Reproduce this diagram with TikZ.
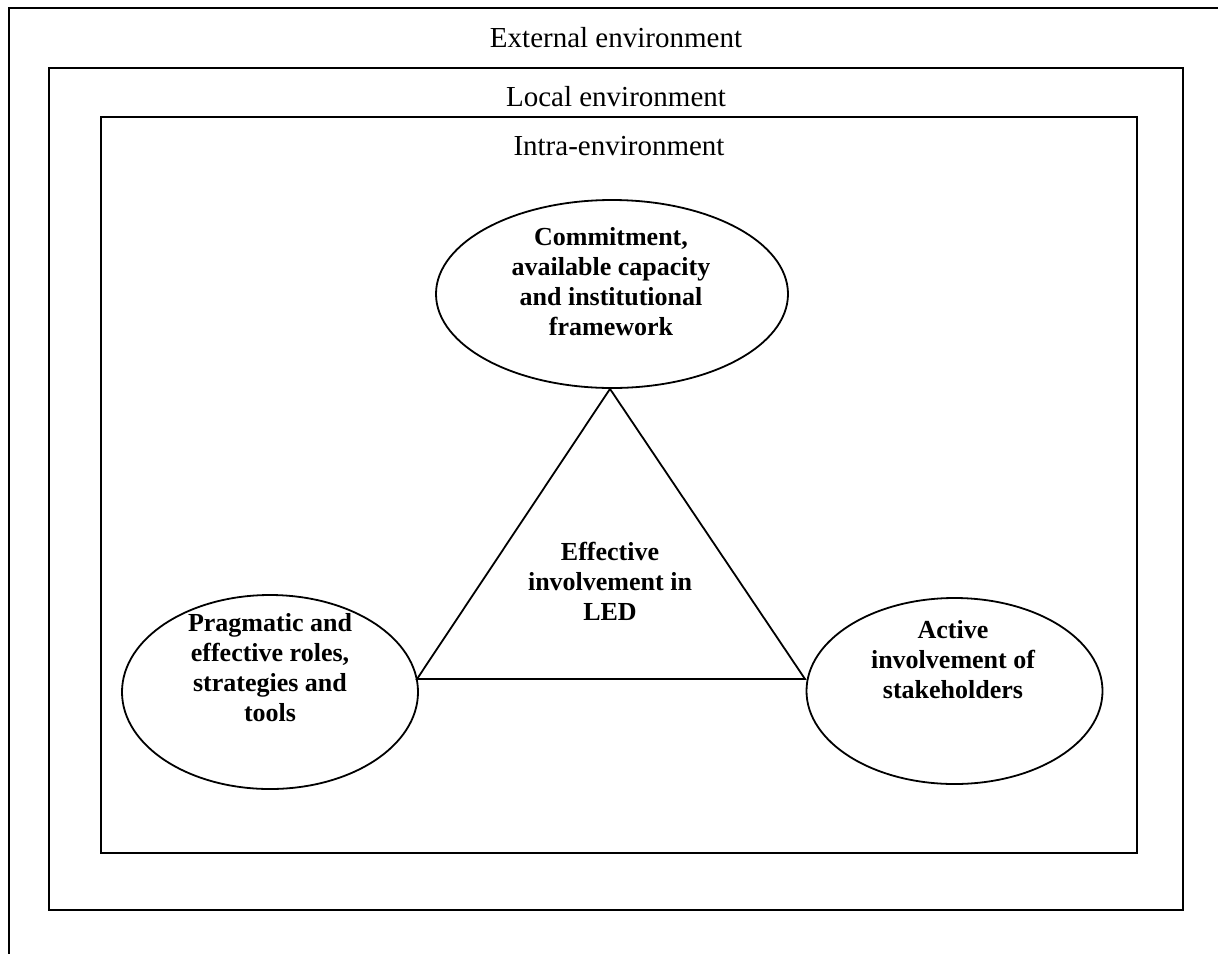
\documentclass[tikz,border=0pt]{standalone}
\usepackage{fontspec}
\setmainfont{Liberation Serif}
\usetikzlibrary{shapes.geometric}

\tikzset{
  frame/.style={draw, line width=1.8pt},
  bubble/.style={draw, ellipse, line width=1.8pt, inner sep=0pt},
  envlabel/.style={anchor=base, inner sep=0pt, font=\fontsize{29}{33}\selectfont},
  keytext/.style={align=center, inner sep=0pt, font=\fontsize{26}{30}\selectfont\bfseries},
}

\begin{document}
\begin{tikzpicture}[x=1pt, y=-1pt]
\useasboundingbox (0,0) rectangle (1218,954);

% external environment: only its top and left edges lie inside the page
\coordinate (extTL) at (9,8);
\coordinate (extTR) at (1218,8);
\coordinate (extBL) at (9,954);
\draw[frame] (extTR) -- (extTL) -- (extBL);
\node[envlabel] (extlab) at (616,47) {External environment};

% local environment
\draw[frame] (49,68) rectangle (1183,910);
\node[envlabel] (loclab) at (616,106) {Local environment};

% intra-environment
\draw[frame] (101,117) rectangle (1137,853);
\node[envlabel] (intlab) at (619,155) {Intra-environment};

% the three pillars
\node[bubble, minimum width=352pt, minimum height=188pt] (commit) at (612,294) {};
\node[keytext] (committext) at (611,281.5) {Commitment,\\available capacity\\and institutional\\framework};

\node[bubble, minimum width=296pt, minimum height=194pt] (roles) at (270,692) {};
\node[keytext] (rolestext) at (270,667.5) {Pragmatic and\\effective roles,\\strategies and\\tools};

\node[bubble, minimum width=296pt, minimum height=186pt] (stake) at (954.5,691) {};
\node[keytext] (staketext) at (953,659.5) {Active\\involvement of\\stakeholders};

% central triangle linking the pillars
\coordinate (apex) at ([xshift=-2pt]commit.south);
\coordinate (baseL) at (417,679);
\coordinate (baseR) at (805,679);
\draw[line width=1.8pt, line join=miter] (apex) -- (baseL) -- (baseR) -- cycle;
\node[keytext] (ledtext) at (610,581) {Effective\\involvement in\\LED};
\end{tikzpicture}
\end{document}
